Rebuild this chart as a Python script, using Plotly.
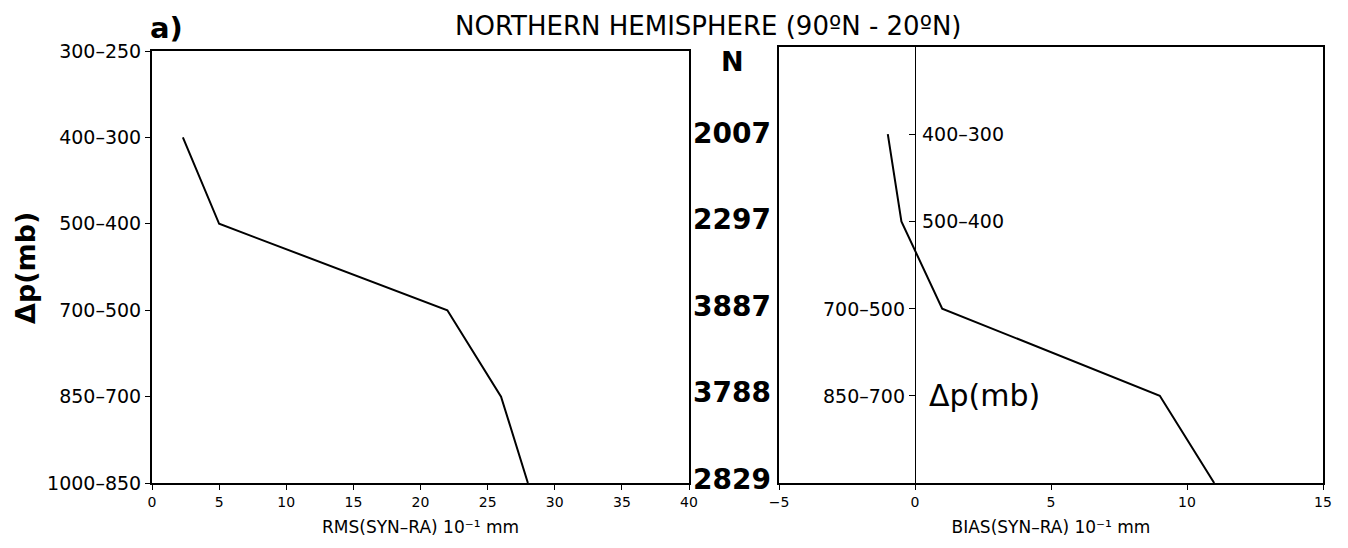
import plotly.graph_objects as go

W, H = 1348, 548
OFF = 8  # page body margin shifts the figure

levels = ["300–250", "400–300", "500–400", "700–500", "850–700", "1000–850"]
data_levels = ["400–300", "500–400", "700–500", "850–700", "1000–850"]
rms = [2.3, 5.0, 22.0, 26.0, 28.0]
bias = [-1.0, -0.5, 1.0, 9.0, 11.0]
counts = [2007, 2297, 3887, 3788, 2829]
rms_ticks = [0, 5, 10, 15, 20, 25, 30, 35, 40]
bias_ticks = [-5, 0, 5, 10, 15]
inner_labels = ["400–300", "500–400", "700–500", "850–700"]

FONT = "DejaVu Sans"
ypos = [levels.index(l) for l in data_levels]


def px_x(p):
    return (p - OFF) / W


def px_y(p):
    return 1 - (p - OFF) / H


fig = go.Figure()
fig.add_trace(go.Scatter(x=rms, y=ypos, mode="lines", line=dict(color="black", width=2),
                         xaxis="x", yaxis="y", showlegend=False))
fig.add_trace(go.Scatter(x=bias, y=ypos, mode="lines", line=dict(color="black", width=2),
                         xaxis="x2", yaxis="y2", showlegend=False))

axis_common = dict(showline=True, linecolor="black", mirror=True, showgrid=False,
                   zeroline=False, automargin=False, ticks="outside", tickcolor="black")

fig.update_layout(
    width=W, height=H,
    template="none",
    paper_bgcolor="white", plot_bgcolor="white",
    margin=dict(l=0, r=0, t=0, b=0),
    font=dict(family=FONT, color="black"),
    xaxis=dict(**axis_common, domain=[px_x(152), px_x(689)], range=[0, 40], anchor="y",
               tickvals=rms_ticks, ticklen=5, linewidth=2, tickfont=dict(size=14),
               title=dict(text="RMS(SYN–RA) 10⁻¹ mm", font=dict(size=17), standoff=12)),
    yaxis=dict(**axis_common, domain=[px_y(483), px_y(51)], range=[5, 0], anchor="x",
               tickvals=list(range(len(levels))), ticktext=levels, ticklen=5, linewidth=2,
               tickfont=dict(size=19)),
    xaxis2=dict(**axis_common, domain=[px_x(779), px_x(1323)], range=[-5, 15], anchor="y2",
                tickvals=bias_ticks, ticklen=5, linewidth=2, tickfont=dict(size=14),
                title=dict(text="BIAS(SYN–RA) 10⁻¹ mm", font=dict(size=17), standoff=12)),
    yaxis2=dict(**axis_common, domain=[px_y(483), px_y(47)], range=[5, 0], anchor="x2",
                tickvals=list(range(len(levels))), showticklabels=False, ticklen=0,
                linewidth=2),
    yaxis3=dict(overlaying="y2", anchor="free", position=px_x(915), range=[5, 0],
                showline=True, linecolor="black", linewidth=1, showgrid=False, zeroline=False,
                ticks="outside", ticklen=6, tickcolor="black",
                tickvals=[levels.index(l) for l in inner_labels], showticklabels=False),
)
# dummy trace so yaxis3 is drawn
fig.add_trace(go.Scatter(x=[None], y=[None], xaxis="x2", yaxis="y3", showlegend=False))

ann = []
ann.append(dict(text="<b>a)</b>", x=px_x(148), y=px_y(9), xref="paper", yref="paper",
                xanchor="left", yanchor="top", showarrow=False, font=dict(size=29)))
ann.append(dict(text="NORTHERN HEMISPHERE (90ºN - 20ºN)", x=px_x(708), y=px_y(8.5),
                xref="paper", yref="paper", xanchor="center", yanchor="top",
                showarrow=False, font=dict(size=26)))
ann.append(dict(text="<b>Δp(mb)</b>", x=px_x(25), y=px_y(268), xref="paper", yref="paper",
                textangle=-90, xanchor="center", yanchor="middle", showarrow=False,
                font=dict(size=27)))
ann.append(dict(text="<b>N</b>", x=px_x(733), y=0, xref="paper", yref="y", yshift=-10,
                xanchor="center", yanchor="middle", showarrow=False, font=dict(size=27)))
for lvl, n in zip(data_levels, counts):
    ann.append(dict(text=f"<b>{n}</b>", x=px_x(773), y=levels.index(lvl), xref="paper",
                    yref="y", yshift=4, xanchor="right", yanchor="middle", showarrow=False,
                    font=dict(size=28)))
for lvl in inner_labels:
    i = levels.index(lvl)
    right = i <= 2
    ann.append(dict(text=lvl, x=0.2 if right else -0.3, y=i, xref="x2", yref="y2",
                    xanchor="left" if right else "right", yanchor="middle",
                    showarrow=False, font=dict(size=19)))
ann.append(dict(text="Δp(mb)", x=0.45, y=4, xref="x2", yref="y2", xanchor="left",
                yanchor="middle", showarrow=False, font=dict(size=30)))
fig.update_layout(annotations=ann)

fig.write_html("out.html")
